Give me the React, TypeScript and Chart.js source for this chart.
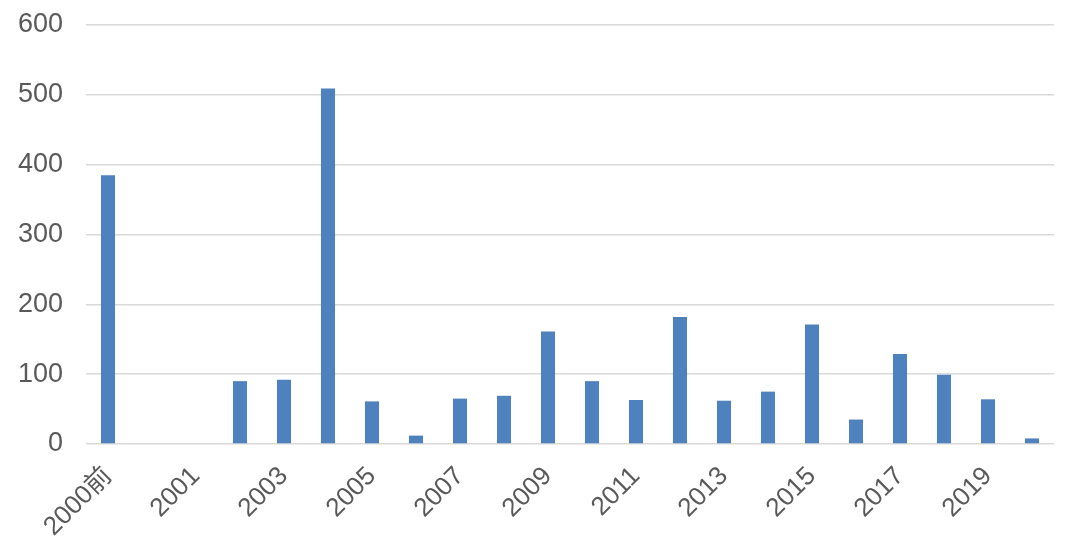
import React, { useEffect, useRef } from "react";
import { Chart, registerables } from "chart.js";

Chart.register(...registerables);

const categories: string[] = [
  "2000前", "2000", "2001", "2002", "2003", "2004", "2005", "2006", "2007", "2008", "2009",
  "2010", "2011", "2012", "2013", "2014", "2015", "2016", "2017", "2018", "2019", "2020",
];
const values: number[] = [
  385, 0, 0, 90, 92, 509, 61, 12, 65, 69, 161,
  90, 63, 182, 62, 75, 171, 35, 129, 99, 64, 8,
];
const yTicks: number[] = [0, 100, 200, 300, 400, 500, 600];

export default function App() {
  const ref = useRef<HTMLCanvasElement | null>(null);
  useEffect(() => {
    if (!ref.current) return;
    const chart = new Chart(ref.current, {
      type: "bar",
      data: {
        labels: categories,
        datasets: [
          {
            data: values,
            backgroundColor: "#4F81BD",
            borderWidth: 0,
            categoryPercentage: 1,
            barPercentage: 0.32,
          },
        ],
      },
      options: {
        animation: false,
        responsive: false,
        maintainAspectRatio: false,
        layout: { padding: { left: 0, right: 11, top: 25, bottom: 0 } },
        plugins: { legend: { display: false }, tooltip: { enabled: false } },
        scales: {
          x: {
            grid: { display: false, drawTicks: false },
            border: { display: false },
            ticks: {
              autoSkip: false,
              minRotation: 45,
              maxRotation: 45,
              padding: 17,
              color: "#595959",
              font: { family: "'Liberation Sans', Arial, 'Noto Sans CJK SC', sans-serif", size: 26 },
              callback: (_v: any, i: number) => (i % 2 === 0 ? categories[i] : ""),
            },
            afterFit: (s: any) => {
              s.height = 111;
              s.paddingLeft = 0;
              s.paddingRight = 0;
            },
          },
          y: {
            min: 0,
            max: 600,
            afterBuildTicks: (s: any) => {
              s.ticks = yTicks.map((v) => ({ value: v }));
            },
            grid: { color: "#D9D9D9", lineWidth: 1.5, drawTicks: false },
            border: { display: false },
            ticks: {
              padding: 23,
              color: "#595959",
              font: { family: "'Liberation Sans', Arial, sans-serif", size: 27 },
            },
            afterFit: (s: any) => {
              s.width = 86;
              s.paddingTop = 0;
              s.paddingBottom = 0;
            },
          },
        },
      },
    });
    return () => chart.destroy();
  }, []);
  return (
    <div style={{ position: "fixed", left: 0, top: 0, width: 1065, height: 555, background: "#fff" }}>
      <canvas ref={ref} width={1065} height={555} style={{ width: 1065, height: 555 }} />
    </div>
  );
}
